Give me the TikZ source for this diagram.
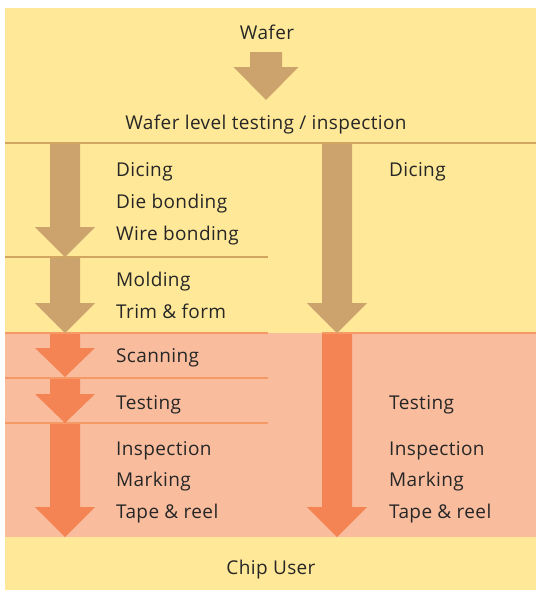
\documentclass[tikz,border=0pt]{standalone}
\usepackage{fontspec}
\setmainfont{Open Sans}[LetterSpace=2]
\definecolor{bgyellow}{HTML}{FFE898}
\definecolor{bgpink}{HTML}{F9BD9E}
\definecolor{arrtan}{HTML}{CCA36D}
\definecolor{arrorange}{HTML}{F58455}
\definecolor{linetan}{HTML}{D2A560}
\definecolor{lineorange}{HTML}{F59A66}
\definecolor{txt}{HTML}{262626}
\tikzset{
  lbl/.style={anchor=base west, inner sep=0pt, text=txt, font=\fontsize{19}{22}\selectfont},
  ctr/.style={anchor=base, inner sep=0pt, text=txt, font=\fontsize{19}{22}\selectfont},
  tanarrow/.style={fill=arrtan},
  orangearrow/.style={fill=arrorange},
  tansep/.style={draw=linetan, line width=1.6pt},
  orangesep/.style={draw=lineorange, line width=1.3pt}
}
% #1 center x, #2 top y, #3 shaft end y, #4 tip y, #5 style
\newcommand{\myblockarrow}[5]{%
  \fill[#5] (#1-15,#2) -- (#1+15,#2) -- (#1+15,#3) -- (#1+30,#3) -- (#1,#4)
    -- (#1-30,#3) -- (#1-15,#3) -- cycle;}
\begin{document}
\begin{tikzpicture}[x=1pt,y=-1pt]
\useasboundingbox (0,0) rectangle (536,590);
\fill[white] (0,0) rectangle (536,590);
% backgrounds
\fill[bgyellow] (5,8) rectangle (536,590);
\fill[bgpink] (5,333) rectangle (536,537);
% separators
\draw[tansep] (5,143) -- (536,143);
\draw[tansep] (5,257) -- (268,257);
\draw[orangesep] (5,333) -- (268,333);
\draw[orangesep] (322,333) -- (536,333);
\draw[orangesep] (5,378) -- (268,378);
\draw[orangesep] (5,423) -- (268,423);
% top arrow
\fill[tanarrow] (250,52) -- (282,52) -- (282,67) -- (298.5,67) -- (266,100)
  -- (233.5,67) -- (250,67) -- cycle;
% left column arrows
\myblockarrow{65}{144}{227}{257}{tanarrow}
\myblockarrow{65}{258}{303}{333}{tanarrow}
\myblockarrow{65}{334}{348}{377}{orangearrow}
\myblockarrow{65}{379}{394}{423}{orangearrow}
\myblockarrow{65}{424}{507}{537}{orangearrow}
% right column arrows
\myblockarrow{337}{144}{303}{333}{tanarrow}
\myblockarrow{337}{334}{507}{537}{orangearrow}
% texts
\node[ctr] (wafer) at (267,39) {Wafer};
\node[ctr] (wlt) at (266,129.3) {Wafer level testing / inspection};
\node[lbl] (l1) at (116,176.7) {Dicing};
\node[lbl] (l2) at (116,208.7) {Die bonding};
\node[lbl] (l3) at (116,240.7) {Wire bonding};
\node[lbl] (l4) at (116,286.7) {Molding};
\node[lbl] (l5) at (116,318.3) {Trim \& form};
\node[lbl] (l6) at (116,362.7) {Scanning};
\node[lbl] (l7) at (116,409.3) {Testing};
\node[lbl] (l8) at (116,455) {Inspection};
\node[lbl] (l9) at (116,486.7) {Marking};
\node[lbl] (l10) at (116,518.5) {Tape \& reel};
\node[lbl] (r1) at (389,176.7) {Dicing};
\node[lbl] (r2) at (389,409.3) {Testing};
\node[lbl] (r3) at (389,455) {Inspection};
\node[lbl] (r4) at (389,486.7) {Marking};
\node[lbl] (r5) at (389,518.5) {Tape \& reel};
\node[ctr] (chip) at (271,574) {Chip User};
\end{tikzpicture}
\end{document}
